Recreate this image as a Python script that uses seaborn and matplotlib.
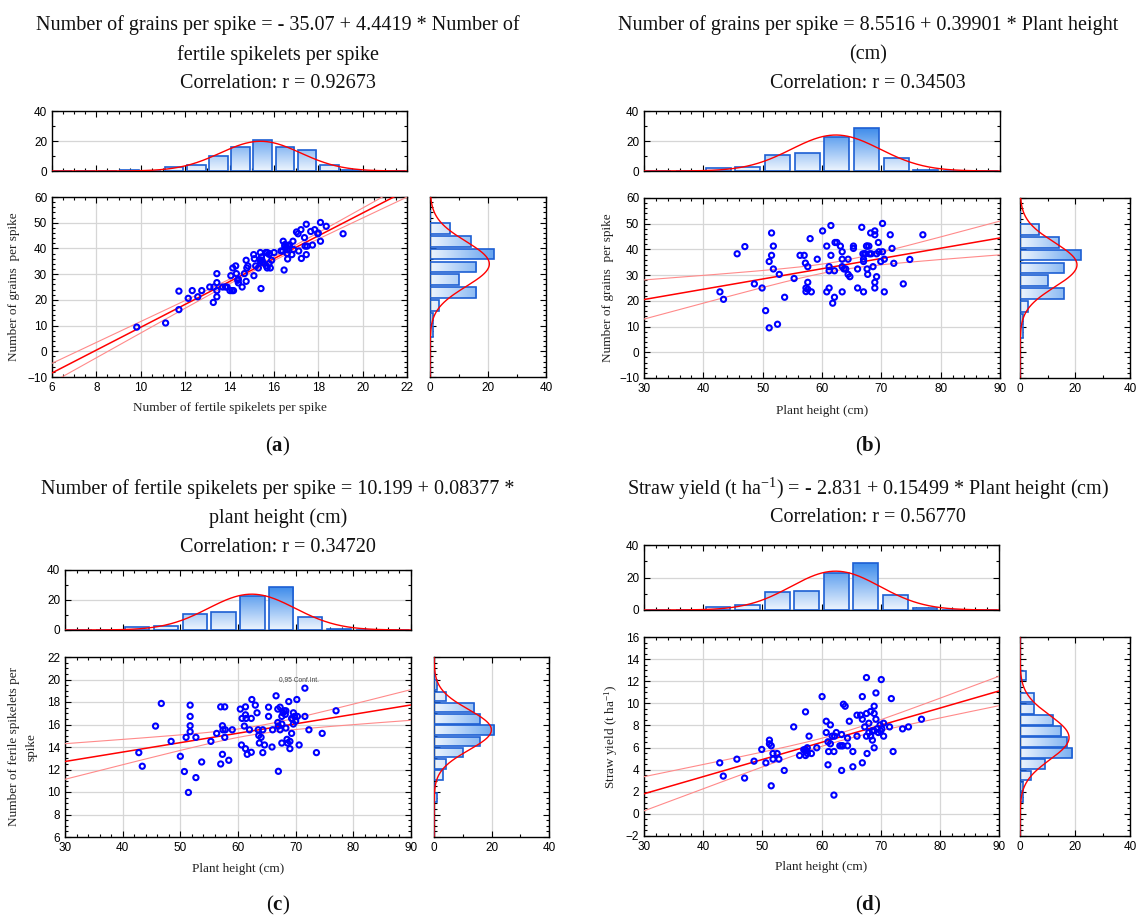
import numpy as np
import pandas as pd
import matplotlib
matplotlib.use("Agg")
import matplotlib.pyplot as plt
import seaborn as sns
from matplotlib.ticker import MultipleLocator, AutoMinorLocator
from matplotlib.colors import LinearSegmentedColormap

# ---------------- data ----------------
spikelets_a = [9.82, 11.12, 11.72, 11.72, 12.14, 12.32, 12.57, 12.75, 13.11, 13.27, 13.30, 13.43, 13.43, 13.43,
               13.43, 13.69, 13.82, 13.89, 14.02, 14.06, 14.11, 14.15, 14.18, 14.28, 14.31, 14.37, 14.40, 14.57,
               14.67, 14.75, 14.75, 14.78, 14.83, 15.09, 15.10, 15.12, 15.18, 15.30, 15.36, 15.39, 15.42, 15.44,
               15.47, 15.63, 15.66, 15.70, 15.70, 15.78, 15.78, 15.84, 15.90, 16.01, 16.32, 16.42, 16.46, 16.49,
               16.57, 16.60, 16.62, 16.70, 16.81, 16.86, 16.89, 17.02, 17.09, 17.12, 17.22, 17.24, 17.38, 17.41,
               17.46, 17.46, 17.50, 17.66, 17.74, 17.84, 17.98, 18.10, 18.10, 18.36, 19.12,
               15.50, 15.40, 15.80, 16.50, 16.60, 16.65, 16.40, 14.40, 18.00]
grains_a = [9.4, 11.0, 23.4, 16.2, 20.6, 23.6, 21.2, 23.6, 25.0, 19.0, 25.0, 30.2, 26.7, 23.6,
            21.2, 25.0, 25.0, 25.0, 23.6, 29.4, 23.6, 32.4, 23.6, 33.2, 30.2, 27.6, 26.6, 25.0,
            30.2, 35.4, 27.2, 32.4, 33.2, 37.6, 29.4, 36.0, 33.2, 32.4, 35.6, 38.4, 24.4, 36.7,
            35.4, 38.4, 33.2, 38.4, 32.4, 37.7, 34.1, 32.4, 35.4, 38.4, 39.0, 42.8, 31.6, 40.9,
            40.6, 38.0, 35.9, 41.4, 37.6, 42.8, 39.6, 46.4, 45.7, 39.0, 47.3, 36.1, 44.2, 40.9,
            49.4, 37.6, 40.9, 46.6, 41.3, 47.3, 45.7, 50.1, 42.8, 48.6, 45.7,
            34.5, 35.0, 38.0, 41.5, 39.5, 41.0, 39.0, 28.0, 46.0]

height_b = [42.8, 43.4, 45.7, 47.0, 48.6, 49.9, 50.5, 51.1, 51.1, 51.5, 51.5, 51.8, 51.8, 52.5, 52.8, 53.7,
            55.3, 56.3, 57.0, 57.2, 57.3, 57.3, 57.6, 57.6, 57.6, 58.0, 58.2, 59.2, 60.1, 60.8, 60.8, 61.2,
            61.2, 61.2, 61.5, 61.5, 61.8, 62.1, 62.1, 62.2, 62.5, 63.1, 63.4, 63.4, 63.4, 63.4, 63.7, 64.0,
            64.4, 64.4, 64.7, 65.3, 65.3, 66.0, 66.0, 66.7, 66.9, 67.0, 67.0, 67.0, 67.3, 67.6, 67.6, 67.7,
            67.9, 68.0, 68.2, 68.3, 68.6, 68.9, 68.9, 68.9, 68.9, 69.2, 69.2, 69.5, 69.6, 69.9, 70.2, 70.2,
            70.5, 70.5, 71.5, 71.8, 72.1, 73.7, 74.8, 77.0, 67.5, 67.2]
grains_b = [23.5, 20.6, 38.3, 41.1, 26.6, 25.0, 16.2, 9.5, 35.3, 46.4, 37.7, 41.3, 32.4, 10.9, 30.3, 21.4,
            28.7, 37.7, 37.7, 34.7, 25.0, 23.6, 33.3, 27.2, 24.5, 44.2, 23.5, 36.2, 47.2, 41.3, 23.5, 33.3,
            31.7, 25.0, 49.3, 37.7, 19.1, 31.7, 21.4, 42.7, 42.7, 41.3, 39.1, 36.2, 23.5, 33.3, 32.4, 32.4,
            30.3, 36.2, 29.4, 41.3, 40.4, 32.4, 25.0, 48.6, 38.3, 36.2, 35.3, 23.5, 38.3, 41.3, 32.4, 30.3,
            41.3, 38.3, 46.4, 38.3, 33.3, 47.2, 45.7, 27.2, 25.0, 38.3, 29.4, 42.7, 39.1, 35.3, 50.1, 39.1,
            36.2, 23.5, 45.7, 40.4, 34.6, 26.6, 36.1, 45.7, 41.3, 38.3]

height_c = [42.8, 43.4, 45.7, 46.7, 48.4, 50.0, 50.7, 51.0, 51.4, 51.7, 51.7, 51.7, 51.7, 52.7, 52.7, 53.7,
            55.3, 56.3, 57.0, 57.0, 57.3, 57.3, 57.4, 57.7, 57.7, 57.8, 58.4, 59.0, 60.4, 60.6, 60.7, 61.1,
            61.3, 61.3, 61.3, 61.4, 61.6, 62.0, 62.3, 62.3, 62.4, 63.0, 63.3, 63.5, 63.6, 63.7, 64.0, 64.3,
            64.3, 64.6, 65.3, 65.3, 65.9, 66.0, 66.6, 66.9, 66.9, 67.0, 67.0, 67.3, 67.3, 67.6, 67.6, 67.6,
            67.8, 68.0, 68.3, 68.3, 68.5, 68.6, 68.8, 69.0, 69.0, 69.3, 69.3, 69.6, 69.6, 69.8, 70.2, 70.3,
            70.6, 71.6, 71.6, 72.3, 73.6, 74.6, 77.0, 68.2, 69.4, 70.0]
spikelets_c = [13.50, 12.29, 15.86, 17.87, 14.50, 13.17, 11.82, 14.86, 9.96, 17.72, 16.72, 15.89, 15.36, 11.28,
               14.86, 12.67, 14.50, 15.21, 12.49, 17.57, 15.89, 13.35, 15.53, 17.57, 14.86, 15.53, 12.82, 15.53,
               17.37, 14.18, 16.54, 15.86, 13.85, 17.57, 16.86, 16.54, 13.35, 15.53, 13.53, 16.54, 18.22, 17.72,
               17.04, 15.53, 15.03, 14.35, 14.86, 13.50, 15.53, 14.18, 17.54, 16.72, 14.00, 15.53, 18.55, 17.37,
               16.18, 11.84, 15.86, 15.53, 17.54, 16.72, 14.35, 16.04, 17.04, 17.22, 17.22, 15.68, 14.68, 14.35,
               18.04, 13.85, 14.50, 15.21, 16.54, 17.04, 16.04, 16.72, 18.22, 16.72, 14.18, 19.23, 16.72, 15.53,
               13.50, 15.21, 17.22, 16.90, 16.50, 16.30]

height_d = [42.8, 43.4, 45.7, 47.0, 48.6, 49.9, 50.6, 51.2, 51.2, 51.5, 51.5, 51.8, 51.8, 52.5, 52.8, 53.7,
            55.3, 56.3, 57.0, 57.3, 57.3, 57.3, 57.6, 57.6, 57.9, 58.3, 59.2, 60.1, 60.8, 60.8, 61.1, 61.1,
            61.2, 61.5, 61.5, 61.8, 62.1, 62.1, 62.2, 62.5, 63.1, 63.4, 63.4, 63.4, 63.7, 64.0, 64.4, 64.4,
            64.7, 65.3, 65.3, 66.0, 66.0, 66.6, 66.9, 66.9, 66.9, 67.3, 67.6, 67.6, 67.6, 67.7, 68.0, 68.0,
            68.3, 68.3, 68.6, 68.6, 68.9, 68.9, 68.9, 68.9, 69.2, 69.2, 69.6, 69.9, 70.1, 70.2, 70.5, 70.5,
            71.5, 71.8, 72.1, 73.7, 74.7, 76.9, 63.6, 69.4, 70.0, 57.5]
straw_d = [4.62, 3.42, 4.95, 3.24, 4.77, 5.83, 4.62, 6.67, 6.34, 2.54, 6.16, 5.46, 4.95, 5.46, 4.95, 3.93,
           7.87, 5.28, 5.80, 9.23, 5.28, 5.80, 5.98, 5.46, 7.03, 5.46, 5.98, 10.61, 8.38, 7.36, 6.52, 4.44,
           5.64, 8.05, 6.34, 7.03, 1.70, 5.64, 7.03, 7.36, 6.16, 6.16, 7.18, 3.93, 9.92, 9.74, 6.85, 6.16,
           8.38, 4.26, 5.64, 8.93, 7.03, 8.93, 10.61, 8.56, 4.62, 7.87, 12.33, 9.08, 7.03, 5.46, 8.20, 7.36,
           9.26, 7.03, 6.67, 7.51, 9.08, 9.74, 5.98, 7.51, 8.56, 10.94, 7.36, 8.05, 12.15, 7.69, 8.20, 7.03,
           7.87, 10.43, 5.64, 7.69, 7.87, 8.56, 6.16, 7.70, 7.50, 5.70]

# marginal histogram bins and counts
height_edges = [30, 35, 40, 45, 50, 55, 60, 65, 70, 75, 80, 85, 90]
height_counts = [0, 0, 2, 3, 11, 12, 23, 29, 9, 1, 0, 0]
spikelet_edges = [6, 7, 8, 9, 10, 11, 12, 13, 14, 15, 16, 17, 18, 19, 20, 21, 22]
spikelet_counts = [0, 0, 0, 1, 0, 3, 4, 10, 16, 21, 16, 14, 4, 1, 0, 0]
grain_edges = [-9.7, -4.7, 0.3, 5.3, 10.3, 15.3, 20.3, 25.3, 30.3, 35.3, 40.3, 45.3, 50.3, 55.3]
grain_counts = [0, 0, 0, 1, 1, 3, 16, 10, 16, 22, 14, 7, 0]
straw_edges = [-2, -1, 0, 1, 2, 3, 4, 5, 6, 7, 8, 9, 10, 11, 12, 13, 14, 15, 16]
straw_counts = [0, 0, 0, 1, 1, 4, 9, 19, 17, 15, 12, 5, 5, 0, 2, 0, 0, 0]

# regression equations (intercept, slope) as printed
coef_a = (-35.07, 4.4419)
coef_b = (8.5516, 0.39901)
coef_c = (10.199, 0.08377)
coef_d = (-2.831, 0.15499)

titles_a = ["Number of grains per spike = - 35.07 + 4.4419 * Number of",
            "fertile spikelets per spike", "Correlation: r = 0.92673"]
titles_b = ["Number of grains per spike = 8.5516 + 0.39901 * Plant height",
            "(cm)", "Correlation: r = 0.34503"]
titles_c = ["Number of fertile spikelets per spike = 10.199 + 0.08377 *",
            "plant height (cm)", "Correlation: r = 0.34720"]
titles_d = [r"Straw yield (t ha$^{\mathregular{-1}}$) = - 2.831 + 0.15499 * Plant height (cm)",
            "Correlation: r = 0.56770"]

# ---------------- style ----------------
sns.set_theme(style="white")
plt.rcParams['font.family'] = ['Liberation Sans', 'DejaVu Sans']
plt.rcParams['mathtext.fontset'] = 'custom'
plt.rcParams['mathtext.rm'] = 'Liberation Serif'
plt.rcParams['mathtext.it'] = 'Liberation Serif:italic'
plt.rcParams['mathtext.bf'] = 'Liberation Serif:bold'
SERIF = ['Liberation Serif', 'DejaVu Serif']

W, H = 1142, 918
fig = plt.figure(figsize=(W / 100, H / 100), dpi=100)
fig.patch.set_facecolor('white')


def box(x0, y0, x1, y1):
    return [x0 / W, 1 - y1 / H, (x1 - x0) / W, (y1 - y0) / H]


grad_cmap = LinearSegmentedColormap.from_list('g', ['#eef5fe', '#3486ea'])
BAR_EDGE = '#1d5fd3'
GRID = '#d6d6d6'


def style_axes(ax):
    for s in ax.spines.values():
        s.set_color('black')
        s.set_linewidth(1.0)
        s.set_visible(True)
    ax.tick_params(which='both', direction='in', top=True, right=True, bottom=True, left=True,
                   colors='black', labelsize=8.5, width=0.8)
    ax.tick_params(which='major', length=4)
    ax.tick_params(which='minor', length=2.5)
    ax.set_axisbelow(True)


def gradient_bars(ax, orient, vmax=30):
    xl, yl = ax.get_xlim(), ax.get_ylim()
    for patch in list(ax.patches):
        x0, y0 = patch.get_x(), patch.get_y()
        w, h = patch.get_width(), patch.get_height()
        patch.set_facecolor('none')
        patch.set_edgecolor(BAR_EDGE)
        patch.set_linewidth(1.2)
        patch.set_zorder(3)
        if orient == 'v':
            if h <= 0:
                continue
            img = np.linspace(0, 1, 256).reshape(-1, 1)
            ext = (x0, x0 + w, 0, vmax)
        else:
            if w <= 0:
                continue
            img = np.linspace(0, 1, 256).reshape(1, -1)
            ext = (0, vmax, y0, y0 + h)
        im = ax.imshow(img, cmap=grad_cmap, extent=ext, origin='lower', aspect='auto',
                       vmin=0, vmax=1, zorder=2, interpolation='bilinear')
        im.set_clip_path(patch)
    ax.set_xlim(xl)
    ax.set_ylim(yl)


def normal_curve(values, n, bw, grid):
    v = np.asarray(values, float)
    m, s = v.mean(), v.std(ddof=1)
    return n * bw * np.exp(-0.5 * ((grid - m) / s) ** 2) / (s * np.sqrt(2 * np.pi))


def draw_panel(x, y, coef, xedges, xcounts, yedges, ycounts, lay, xlim, xmaj, xmin_n,
               ylim, ymaj, ymin_n, xlabel, ylabel, titles, title_y, title_cx, tag, tag_y,
               ylabel_x, xlabel_y, note=None):
    x = np.asarray(x, float)
    y = np.asarray(y, float)
    ax_t = fig.add_axes(box(*lay['top']))
    ax_m = fig.add_axes(box(*lay['main']))
    ax_r = fig.add_axes(box(*lay['right']))

    # ---- main scatter ----
    sns.scatterplot(x=x, y=y, ax=ax_m, s=14, zorder=5, legend=False)
    coll = ax_m.collections[-1]
    coll.set_facecolor('none')
    coll.set_edgecolor('#0000ff')
    coll.set_linewidth(1.5)
    xs = np.linspace(xlim[0], xlim[1], 200)
    a, b = coef
    n = len(x)
    resid = y - (a + b * x)
    s = np.sqrt(np.sum(resid ** 2) / (n - 2))
    sxx = np.sum((x - x.mean()) ** 2)
    se = s * np.sqrt(1 / n + (xs - x.mean()) ** 2 / sxx)
    line = a + b * xs
    ax_m.plot(xs, line, color='#ff0000', lw=1.1, zorder=4)
    ax_m.plot(xs, line - 1.987 * se, color='#ff8a8a', lw=0.8, zorder=4)
    ax_m.plot(xs, line + 1.987 * se, color='#ff8a8a', lw=0.8, zorder=4)
    ax_m.set_xlim(xlim)
    ax_m.set_ylim(ylim)
    ax_m.xaxis.set_major_locator(MultipleLocator(xmaj))
    ax_m.xaxis.set_minor_locator(AutoMinorLocator(xmin_n))
    ax_m.yaxis.set_major_locator(MultipleLocator(ymaj))
    ax_m.yaxis.set_minor_locator(AutoMinorLocator(ymin_n))
    ax_m.grid(True, which='major', color=GRID, lw=0.9)
    ax_m.set_xlabel('')
    ax_m.set_ylabel('')
    style_axes(ax_m)
    if note:
        ax_m.text(note[0], note[1], note[2], fontsize=4.8, color='#444444', ha='center', va='center')

    # ---- top histogram ----
    xe = [float(v) for v in xedges]
    tdf = pd.DataFrame({'v': [(xe[i] + xe[i + 1]) / 2 for i in range(len(xe) - 1)],
                        'w': [float(c) for c in xcounts]})
    sns.histplot(data=tdf, x='v', weights='w', bins=xe, ax=ax_t, shrink=0.84, stat='count')
    ax_t.set_xlim(xlim)
    ax_t.set_ylim(0, 40)
    gradient_bars(ax_t, 'v')
    bw = xe[1] - xe[0]
    gx = np.linspace(xlim[0], xlim[1], 300)
    ax_t.plot(gx, normal_curve(x, sum(xcounts), bw, gx), color='#ff0000', lw=1.0, zorder=4)
    ax_t.xaxis.set_major_locator(MultipleLocator(xmaj))
    ax_t.xaxis.set_minor_locator(AutoMinorLocator(xmin_n))
    ax_t.yaxis.set_major_locator(MultipleLocator(20))
    ax_t.yaxis.set_minor_locator(AutoMinorLocator(2))
    ax_t.grid(True, axis='y', which='major', color=GRID, lw=0.9)
    ax_t.set_xlabel('')
    ax_t.set_ylabel('')
    style_axes(ax_t)
    ax_t.tick_params(axis='x', labelbottom=False)

    # ---- right histogram ----
    ye = [float(v) for v in yedges]
    rdf = pd.DataFrame({'v': [(ye[i] + ye[i + 1]) / 2 for i in range(len(ye) - 1)],
                        'w': [float(c) for c in ycounts]})
    sns.histplot(data=rdf, y='v', weights='w', bins=ye, ax=ax_r, shrink=0.84, stat='count')
    ax_r.set_ylim(ylim)
    ax_r.set_xlim(0, 40)
    gradient_bars(ax_r, 'h')
    bwy = ye[1] - ye[0]
    gy = np.linspace(ylim[0], ylim[1], 300)
    ax_r.plot(normal_curve(y, sum(ycounts), bwy, gy), gy, color='#ff0000', lw=1.0, zorder=4)
    ax_r.xaxis.set_major_locator(MultipleLocator(20))
    ax_r.xaxis.set_minor_locator(AutoMinorLocator(2))
    ax_r.yaxis.set_major_locator(MultipleLocator(ymaj))
    ax_r.yaxis.set_minor_locator(AutoMinorLocator(ymin_n))
    ax_r.grid(True, axis='x', which='major', color=GRID, lw=0.9)
    ax_r.set_xlabel('')
    ax_r.set_ylabel('')
    style_axes(ax_r)
    ax_r.tick_params(axis='y', labelleft=False)

    # ---- texts ----
    mx0, my0, mx1, my1 = lay['main']
    fig.text(((mx0 + mx1) / 2) / W, 1 - xlabel_y / H, xlabel, ha='center', va='center',
             family=SERIF, fontsize=9.5, color='#222222')
    fig.text(ylabel_x / W, 1 - ((my0 + my1) / 2) / H, ylabel, ha='center', va='center',
             rotation=90, family=SERIF, fontsize=9.5, color='#222222', linespacing=1.6)
    for t, ty in zip(titles, title_y):
        fig.text(title_cx / W, 1 - ty / H, t, ha='center', va='center', family=SERIF,
                 fontsize=14.5, color='#111111')
    fig.text(title_cx / W, 1 - tag_y / H, tag, ha='center', va='center', family=SERIF,
             fontsize=15, color='#111111')


draw_panel(spikelets_a, grains_a, coef_a, spikelet_edges, spikelet_counts, grain_edges, grain_counts,
           dict(top=(52, 111, 407, 171), main=(52, 197, 407, 377), right=(430, 197, 546, 377)),
           (6, 22), 2, 4, (-10, 60), 10, 5,
           "Number of fertile spikelets per spike", "Number of grains  per spike",
           titles_a, [25, 55, 84], 278, r"($\mathbf{a}$)", 446, 14, 408)

draw_panel(height_b, grains_b, coef_b, height_edges, height_counts, grain_edges, grain_counts,
           dict(top=(644, 111, 1000, 171), main=(644, 198, 1000, 378), right=(1020, 198, 1130, 378)),
           (30, 90), 10, 5, (-10, 60), 10, 5,
           "Plant height (cm)", "Number of grains  per spike",
           titles_b, [25, 55, 84], 868, r"($\mathbf{b}$)", 446, 608, 411)

draw_panel(height_c, spikelets_c, coef_c, height_edges, height_counts, spikelet_edges, spikelet_counts,
           dict(top=(65, 570, 411, 630), main=(65, 657, 411, 837), right=(434, 657, 549, 837)),
           (30, 90), 10, 5, (6, 22), 2, 4,
           "Plant height (cm)", "Number of ferile spikelets per\nspike",
           titles_c, [489, 518, 547], 278, r"($\mathbf{c}$)", 905, 23, 869,
           note=(70.5, 20.0, "0,95 Conf.Int."))

draw_panel(height_d, straw_d, coef_d, height_edges, height_counts, straw_edges, straw_counts,
           dict(top=(644, 545, 999, 610), main=(644, 637, 999, 836), right=(1020, 637, 1130, 836)),
           (30, 90), 10, 5, (-2, 16), 2, 4,
           "Plant height (cm)", r"Straw yield (t ha$^{\mathregular{-1}}$)",
           titles_d, [489, 518], 868, r"($\mathbf{d}$)", 905, 611, 867)

fig.savefig("out.png", dpi=100, facecolor='white')
